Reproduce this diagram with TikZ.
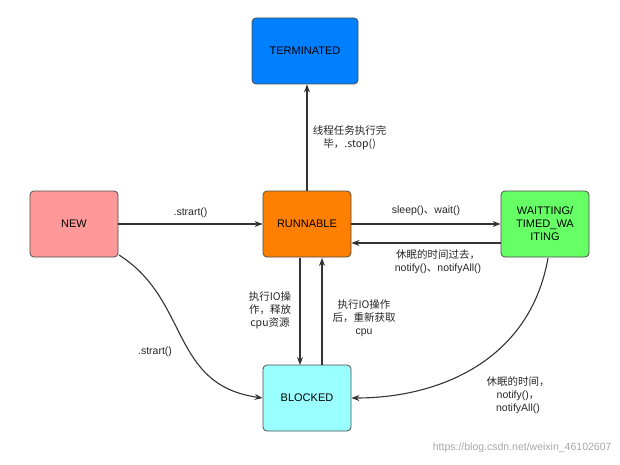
\documentclass[tikz,border=0pt]{standalone}
\usepackage{fontspec}
\setmainfont{Liberation Sans}
\newfontfamily\cjk{Noto Sans CJK SC}
\usetikzlibrary{arrows.meta}
\definecolor{cT}{HTML}{007FFF}
\definecolor{cN}{HTML}{FF9999}
\definecolor{cR}{HTML}{FF8000}
\definecolor{cW}{HTML}{66FF66}
\definecolor{cB}{HTML}{99FFFF}
\begin{document}
\begin{tikzpicture}[x=1pt,y=-1pt,
  st/.style={draw=black!70,rounded corners=4pt,minimum width=88pt,minimum height=66pt,font=\fontsize{11}{13}\selectfont,align=center,line width=0.8pt},
  ar/.style={-{Stealth[length=8pt,width=6pt]},line width=1.1pt,draw=black!80},
  lb/.style={font=\fontsize{10.5}{13}\selectfont,align=center,text=black!85}]
\useasboundingbox (0,0) rectangle (620,465);
\node[st,fill=cT,minimum width=106pt] (T) at (305,51) {TERMINATED};
\node[st,fill=cN] (N) at (74,224) {NEW};
\node[st,fill=cR] (R) at (307,224) {RUNNABLE};
\node[st,fill=cW] (W) at (545,224) {WAITTING/\\TIMED\_WA\\ITING};
\node[st,fill=cB] (B) at (307,398) {BLOCKED};
\draw[ar] (N) -- (R) node[lb,midway,above=2pt] {.strart()};
\draw[ar] (R) -- (R|-T.south) node[lb,pos=0.5,right=2pt] {\cjk 线程任务执行完\\\cjk 毕，.stop()};
\draw[ar] (R) -- (W) node[lb,midway,above=4pt] {sleep()\cjk 、\rmfamily wait()};
\coordinate (w1) at (W.west|-0,243);
\coordinate (r1) at (R.east|-0,243);
\draw[ar] (w1) -- (r1);
\node[lb] (l1) at (438,262) {\cjk 休眠的时间过去，\\notify()\cjk 、\rmfamily notifyAll()};
\coordinate (ra) at (300,258); \coordinate (ba) at (300,365);
\coordinate (rb) at (322,258); \coordinate (bb) at (322,365);
\draw[ar] (ra) -- (ba);
\draw[ar] (bb) -- (rb);
\node[lb] (l2) at (270,310) {\cjk 执行IO操\\\cjk 作，释放\\\cjk cpu资源};
\node[lb] (l3) at (364,318) {\cjk 执行IO操作\\\cjk 后，重新获取\\cpu};
\coordinate (n1) at (119,255);
\coordinate (b1) at (B.west);
\draw[ar] (n1) .. controls (190,300) and (170,385) .. (b1);
\node[lb] (l4) at (155,352) {.strart()};
\coordinate (w2) at (548,258);
\coordinate (b2) at (B.east);
\draw[ar] (w2) .. controls (530,360) and (440,398) .. (b2);
\node[lb] (l5) at (518,395) {\cjk 休眠的时间，\\notify()\cjk ，\\notifyAll()};
\node[font=\fontsize{10.5}{12}\selectfont,text=black!35,anchor=east] (wm) at (615,448) {https://blog.csdn.net/weixin\_46102607};
\end{tikzpicture}
\end{document}
